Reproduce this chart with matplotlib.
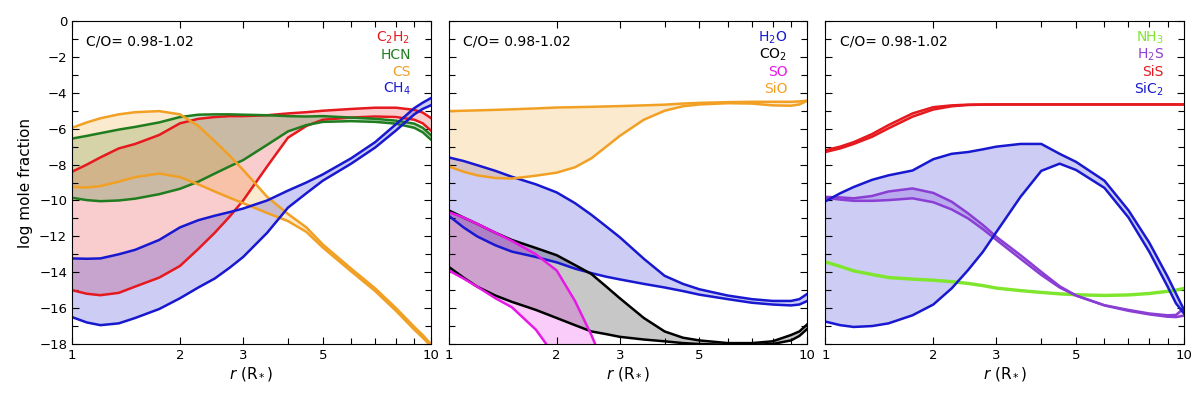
import numpy as np
import matplotlib
matplotlib.use("Agg")
import matplotlib.pyplot as plt
from matplotlib.ticker import FixedLocator, NullFormatter, FixedFormatter, MultipleLocator

# ---------------- data ----------------
r = [1, 1.1, 1.2, 1.35, 1.5, 1.75, 2, 2.25, 2.5, 2.75, 3, 3.5, 4, 4.5, 5, 6, 7, 8, 9, 9.5, 10]

# Panel 1
c2h2_hi = [-8.4, -8.0, -7.6, -7.1, -6.85, -6.35, -5.7, -5.45, -5.35, -5.3, -5.3, -5.25, -5.15, -5.08, -5.0, -4.9, -4.83, -4.83, -4.95, -5.1, -5.4]
c2h2_lo = [-15.0, -15.2, -15.28, -15.15, -14.8, -14.3, -13.65, -12.7, -11.8, -10.9, -10.0, -8.1, -6.5, -5.85, -5.5, -5.38, -5.32, -5.35, -5.5, -5.7, -6.1]
hcn_hi = [-6.55, -6.4, -6.25, -6.05, -5.9, -5.65, -5.35, -5.22, -5.2, -5.2, -5.22, -5.25, -5.3, -5.32, -5.3, -5.38, -5.45, -5.55, -5.72, -5.95, -6.35]
hcn_lo = [-9.85, -9.98, -10.04, -10.0, -9.9, -9.65, -9.35, -8.95, -8.5, -8.1, -7.75, -6.9, -6.15, -5.8, -5.62, -5.58, -5.62, -5.72, -5.95, -6.2, -6.6]
cs_hi = [-5.95, -5.65, -5.42, -5.2, -5.08, -5.02, -5.2, -5.85, -6.7, -7.5, -8.3, -9.8, -10.75, -11.5, -12.45, -13.8, -14.9, -16.0, -17.05, -17.5, -18.0]
cs_lo = [-9.25, -9.28, -9.2, -8.95, -8.7, -8.5, -8.7, -9.1, -9.5, -9.85, -10.15, -10.7, -11.15, -11.75, -12.62, -13.95, -15.05, -16.15, -17.2, -17.65, -18.1]
ch4_hi = [-13.23, -13.25, -13.23, -13.0, -12.75, -12.2, -11.5, -11.1, -10.85, -10.65, -10.45, -10.0, -9.45, -9.0, -8.55, -7.65, -6.75, -5.75, -4.85, -4.55, -4.3]
ch4_lo = [-16.5, -16.8, -16.95, -16.85, -16.55, -16.05, -15.45, -14.85, -14.35, -13.75, -13.15, -11.8, -10.4, -9.6, -8.9, -7.95, -7.05, -6.1, -5.2, -4.9, -4.7]

# Panel 2
sio_hi = [-5.02, -5.0, -4.98, -4.95, -4.92, -4.87, -4.82, -4.8, -4.78, -4.76, -4.74, -4.7, -4.66, -4.6, -4.56, -4.52, -4.5, -4.5, -4.5, -4.48, -4.44]
sio_lo = [-8.1, -8.4, -8.6, -8.75, -8.78, -8.62, -8.45, -8.15, -7.65, -7.0, -6.4, -5.5, -5.0, -4.75, -4.65, -4.58, -4.6, -4.7, -4.72, -4.65, -4.44]
h2o_hi = [-7.6, -7.8, -8.03, -8.35, -8.68, -9.1, -9.55, -10.15, -10.8, -11.45, -12.05, -13.25, -14.2, -14.65, -14.95, -15.3, -15.5, -15.6, -15.6, -15.5, -15.2]
h2o_lo = [-10.85, -11.5, -12.0, -12.5, -12.85, -13.15, -13.45, -13.8, -14.05, -14.25, -14.4, -14.65, -14.85, -15.05, -15.25, -15.5, -15.7, -15.8, -15.85, -15.8, -15.6]
co2_hi = [-10.55, -10.95, -11.3, -11.8, -12.2, -12.65, -13.05, -13.6, -14.1, -14.8, -15.45, -16.55, -17.3, -17.65, -17.8, -17.95, -17.95, -17.85, -17.5, -17.3, -16.9]
co2_lo = [-13.7, -14.3, -14.8, -15.3, -15.65, -16.1, -16.55, -16.95, -17.3, -17.45, -17.6, -17.75, -17.85, -17.95, -18.0, -18.05, -18.05, -18.0, -17.8, -17.55, -17.15]
r_so = [1, 1.1, 1.2, 1.35, 1.5, 1.75, 2, 2.25, 2.5, 2.75]
so_hi = [-10.65, -10.95, -11.3, -11.8, -12.25, -13.0, -13.9, -15.6, -17.5, -19.5]
so_lo = [-13.9, -14.35, -14.8, -15.45, -15.95, -17.2, -18.8, -20.0, -21.0, -22.0]

# Panel 3
sis_hi = [-7.2, -7.0, -6.75, -6.3, -5.8, -5.15, -4.8, -4.7, -4.66, -4.65, -4.65, -4.65, -4.65, -4.65, -4.65, -4.65, -4.65, -4.65, -4.65, -4.65, -4.65]
sis_lo = [-7.3, -7.1, -6.85, -6.45, -5.98, -5.33, -4.93, -4.75, -4.68, -4.66, -4.65, -4.65, -4.65, -4.65, -4.65, -4.65, -4.65, -4.65, -4.65, -4.65, -4.65]
sic2_hi = [-10.05, -9.6, -9.25, -8.85, -8.6, -8.33, -7.7, -7.4, -7.3, -7.15, -7.0, -6.85, -6.85, -7.4, -7.85, -8.9, -10.55, -12.35, -14.25, -15.2, -16.1]
sic2_lo = [-16.75, -16.95, -17.05, -17.0, -16.85, -16.4, -15.8, -14.9, -13.88, -12.86, -11.75, -9.8, -8.35, -7.95, -8.3, -9.3, -10.95, -12.86, -14.8, -15.74, -16.3]
h2s_hi = [-9.8, -9.83, -9.88, -9.75, -9.5, -9.33, -9.58, -10.07, -10.72, -11.37, -12.03, -13.05, -13.98, -14.78, -15.3, -15.84, -16.1, -16.3, -16.4, -16.38, -16.0]
h2s_lo = [-9.85, -9.95, -10.02, -10.02, -9.98, -9.88, -10.1, -10.5, -11.0, -11.6, -12.2, -13.25, -14.15, -14.85, -15.3, -15.85, -16.15, -16.35, -16.48, -16.5, -16.42]
nh3_hi = [-13.4, -13.65, -13.9, -14.1, -14.27, -14.36, -14.42, -14.5, -14.6, -14.72, -14.86, -15.0, -15.1, -15.18, -15.23, -15.27, -15.24, -15.16, -15.04, -14.97, -14.88]
nh3_lo = [-13.45, -13.7, -13.95, -14.15, -14.32, -14.41, -14.47, -14.55, -14.65, -14.77, -14.91, -15.05, -15.15, -15.23, -15.28, -15.32, -15.29, -15.21, -15.09, -15.02, -14.93]

xticks = [1, 2, 3, 5, 10]
xtick_labels = ["1", "2", "3", "5", "10"]
xminor = [4, 6, 7, 8, 9]

RED = "#e5191e"
GREEN = "#1f7d1f"
ORANGE = "#f2a024"
BLUE = "#1818d0"
BLACK = "#000000"
MAGENTA = "#e619e6"
PURPLE = "#8a3ed4"
LGREEN = "#7fe62e"

panels = [
    [("C$_2$H$_2$", RED, r, c2h2_hi, c2h2_lo),
     ("HCN", GREEN, r, hcn_hi, hcn_lo),
     ("CS", ORANGE, r, cs_hi, cs_lo),
     ("CH$_4$", BLUE, r, ch4_hi, ch4_lo)],
    [("H$_2$O", BLUE, r, h2o_hi, h2o_lo),
     ("CO$_2$", BLACK, r, co2_hi, co2_lo),
     ("SO", MAGENTA, r_so, so_hi, so_lo),
     ("SiO", ORANGE, r, sio_hi, sio_lo)],
    [("NH$_3$", LGREEN, r, nh3_hi, nh3_lo),
     ("H$_2$S", PURPLE, r, h2s_hi, h2s_lo),
     ("SiS", RED, r, sis_hi, sis_lo),
     ("SiC$_2$", BLUE, r, sic2_hi, sic2_lo)],
]

fig, axes = plt.subplots(1, 3, figsize=(12, 3.97), dpi=100, sharey=True)
fig.subplots_adjust(left=0.06, right=0.9867, bottom=0.1335, top=0.947, wspace=0.05)

for ax, species in zip(axes, panels):
    for name, col, rr, hi, lo in species:
        ax.fill_between(rr, lo, hi, color=col, alpha=0.22, linewidth=0)
    for name, col, rr, hi, lo in species:
        ax.plot(rr, hi, color=col, lw=1.8, solid_joinstyle="round")
        ax.plot(rr, lo, color=col, lw=1.8, solid_joinstyle="round")
    for i, (name, col, rr, hi, lo) in enumerate(species):
        ax.text(0.944, 0.947 - 0.0526 * i, name, color=col, fontsize=10,
                ha="right", va="center", transform=ax.transAxes)
    ax.text(0.04, 0.938, "C/O= 0.98-1.02", fontsize=10, ha="left", va="center",
            transform=ax.transAxes)
    ax.set_xscale("log")
    ax.set_xlim(1, 10)
    ax.set_ylim(-18, 0)
    ax.xaxis.set_major_locator(FixedLocator(xticks))
    ax.xaxis.set_major_formatter(FixedFormatter(xtick_labels))
    ax.xaxis.set_minor_locator(FixedLocator(xminor))
    ax.xaxis.set_minor_formatter(NullFormatter())
    ax.yaxis.set_major_locator(MultipleLocator(2))
    ax.yaxis.set_minor_locator(MultipleLocator(1))
    ax.tick_params(which="both", direction="in", top=True, right=True, labelsize=9.5)
    ax.tick_params(which="major", length=5, width=0.8)
    ax.tick_params(which="minor", length=4, width=0.8)
    ax.set_xlabel(r"$r$ (R$_*$)", fontsize=11, labelpad=2)
    for s in ax.spines.values():
        s.set_linewidth(0.8)

axes[0].set_ylabel("log mole fraction", fontsize=11, labelpad=4)

fig.savefig("out.png", dpi=100)
